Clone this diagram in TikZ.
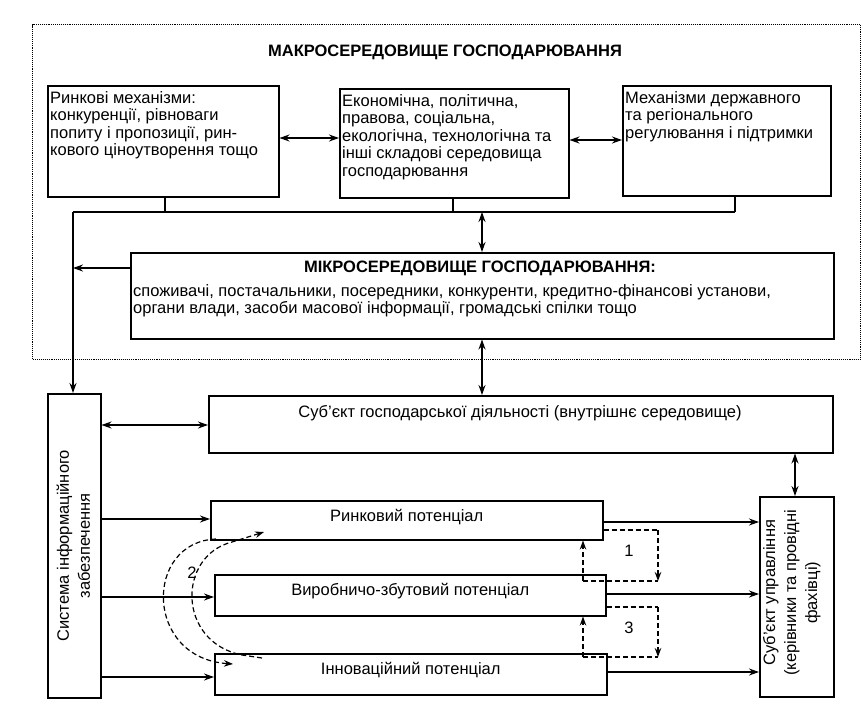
\documentclass[tikz,border=0pt]{standalone}
\usepackage{fontspec}
\setmainfont{Liberation Sans}
\usetikzlibrary{arrows.meta,calc}
\begin{document}
\begin{tikzpicture}[x=1pt,y=-1pt,
  box/.style={draw, line width=1.5pt, anchor=north west, inner sep=0pt},
  txt/.style={font=\fontsize{16.5}{17.5}\selectfont, inner sep=0pt},
  rtxt/.style={font=\fontsize{16.5}{21}\selectfont, inner sep=0pt, rotate=90, align=center},
  btxt/.style={font=\fontsize{16.5}{17.5}\selectfont\bfseries, inner sep=0pt},
  arr/.style={line width=1.3pt, -{Stealth[length=10pt,width=7pt]}},
  darr/.style={line width=1.3pt, {Stealth[length=10pt,width=7pt]}-{Stealth[length=10pt,width=7pt]}},
  ln/.style={line width=1.3pt},
  dsh/.style={line width=1.2pt, dash pattern=on 5pt off 3pt},
  darrow/.style={dsh, -{Stealth[length=9pt,width=6.5pt]}},
]
\useasboundingbox (0,0) rectangle (863,710);

% outer macro environment
\node[draw, densely dotted, line width=1.1pt, anchor=north west, inner sep=0pt,
      minimum width=828pt, minimum height=335pt] (macro) at (32,24) {};
\node[btxt] (mtitle) at (445,52) {МАКРОСЕРЕДОВИЩЕ ГОСПОДАРЮВАННЯ};

% top boxes
\node[box, minimum width=231pt, minimum height=111pt] (A) at (47,85) {};
\node[txt, anchor=north west, align=left] (At) at (50,91)
  {Ринкові механізми:\\конкуренції, рівноваги\\попиту і пропозиції, рин-\\кового ціноутворення тощо};
\node[box, minimum width=229pt, minimum height=109pt] (B) at (339,88) {};
\node[txt, anchor=north west, align=left] (Bt) at (342,94)
  {Економічна, політична,\\правова, соціальна,\\екологічна, технологічна та\\інші складові середовища\\господарювання};
\node[box, minimum width=208pt, minimum height=110pt] (C) at (622,85) {};
\node[txt, anchor=north west, align=left] (Ct) at (625,91)
  {Механізми державного\\та регіонального\\регулювання і підтримки};

\draw[darr] (A.east |- 0,138) -- (B.west |- 0,138);
\draw[darr] (B.east |- 0,140) -- (C.west |- 0,140);

% bus
\coordinate (busL) at (73,212);
\coordinate (busR) at (735,212);
\draw[ln] (A.south -| 165,0) -- (165,212);
\draw[ln] (B.south -| 453,0) -- (453,212);
\draw[ln] (C.south -| busR) -- (busR);
\draw[ln] (busL) -- (busR);

% micro environment
\node[box, minimum width=703pt, minimum height=86pt] (M) at (130,252) {};
\node[btxt] (Mt) at (480,268) {МІКРОСЕРЕДОВИЩЕ ГОСПОДАРЮВАННЯ:};
\node[txt, anchor=north west, align=left] (Ml) at (133,284)
  {споживачі, постачальники, посередники, конкуренти, кредитно-фінансові установи,\\органи влади, засоби масової інформації, громадські спілки тощо};

\draw[darr] (482,212) -- (M.north -| 482,0);
\draw[arr] (M.west |- 0,268) -- (busL |- 0,268);

% subject of activity
\node[box, minimum width=624pt, minimum height=57pt] (S) at (208,395) {};
\node[txt] (St) at (520,413) {Суб’єкт господарської діяльності (внутрішнє середовище)};
\draw[darr] (M.south -| 482,0) -- (S.north -| 482,0);

% information system
\node[box, minimum width=53pt, minimum height=304pt] (I) at (47,393) {};
\node[rtxt] (It) at ($(I.center)+(-1,0)$) {Система інформаційного\\забезпечення};
\draw[arr] (busL) -- (I.north -| busL);
\draw[darr] (I.east |- 0,425) -- (S.west |- 0,425);

% potentials
\node[box, minimum width=392pt, minimum height=39pt] (R) at (210,500) {};
\node[txt] (Rt) at ($(R.center)+(0,-3)$) {Ринковий потенціал};
\node[box, minimum width=391pt, minimum height=41pt] (V) at (214,574) {};
\node[txt] (Vt) at ($(V.center)+(0,-4)$) {Виробничо-збутовий потенціал};
\node[box, minimum width=392pt, minimum height=41pt] (N) at (214,653) {};
\node[txt] (Nt) at ($(N.center)+(0,-4)$) {Інноваційний потенціал};

% control subject
\node[box, minimum width=74pt, minimum height=200pt] (K) at (759,496) {};
\node[rtxt] (Kt) at ($(K.center)+(-5,-4)$) {Суб’єкт управління\\(керівники та провідні\\фахівці)};
\draw[darr] (S.south -| 795,0) -- (K.north -| 795,0);

% info -> potentials
\draw[arr] (I.east |- 0,519) -- (R.west |- 0,519);
\draw[arr] (I.east |- 0,597) -- (V.west |- 0,597);
\draw[arr] (I.east |- 0,677) -- (N.west |- 0,677);

% potentials -> control
\draw[arr] (R.east |- 0,522) -- (K.west |- 0,522);
\draw[arr] (V.east |- 0,594) -- (K.west |- 0,594);
\draw[arr] (N.east |- 0,672) -- (K.west |- 0,672);

% dashed loop 1
\coordinate (p1a) at (583,581);
\coordinate (p1b) at (658,581);
\coordinate (p1c) at (658,530);
\draw[darrow] (p1a) -- (R.south -| p1a);
\draw[dsh] (R.east |- p1c) -- (p1c);
\draw[darrow] (p1c) -- (p1b);
\draw[dsh] (p1a) -- (p1b);
\node[txt] (one) at (629,551) {1};

% dashed loop 3
\coordinate (p3a) at (583,657);
\coordinate (p3b) at (658,657);
\coordinate (p3c) at (658,607);
\draw[darrow] (p3a) -- (V.south -| p3a);
\draw[dsh] (V.east |- p3c) -- (p3c);
\draw[darrow] (p3c) -- (p3b);
\draw[dsh] (p3a) -- (p3b);
\node[txt] (three) at (629,628) {3};

% dashed loop 2
\coordinate (o1) at (216,539);
\coordinate (o2) at (233,664);
\draw[darrow] (o1) .. controls (144,542) and (144,658) .. (o2);
\coordinate (i0) at (262,658);
\coordinate (i1) at (242,655);
\coordinate (i2) at (232,542);
\coordinate (i3) at (264,532);
\draw[darrow] (i0) -- (i1) .. controls (177,642) and (177,556) .. (i2) -- (i3);
\node[txt] (two) at (192,573) {2};

\end{tikzpicture}
\end{document}
